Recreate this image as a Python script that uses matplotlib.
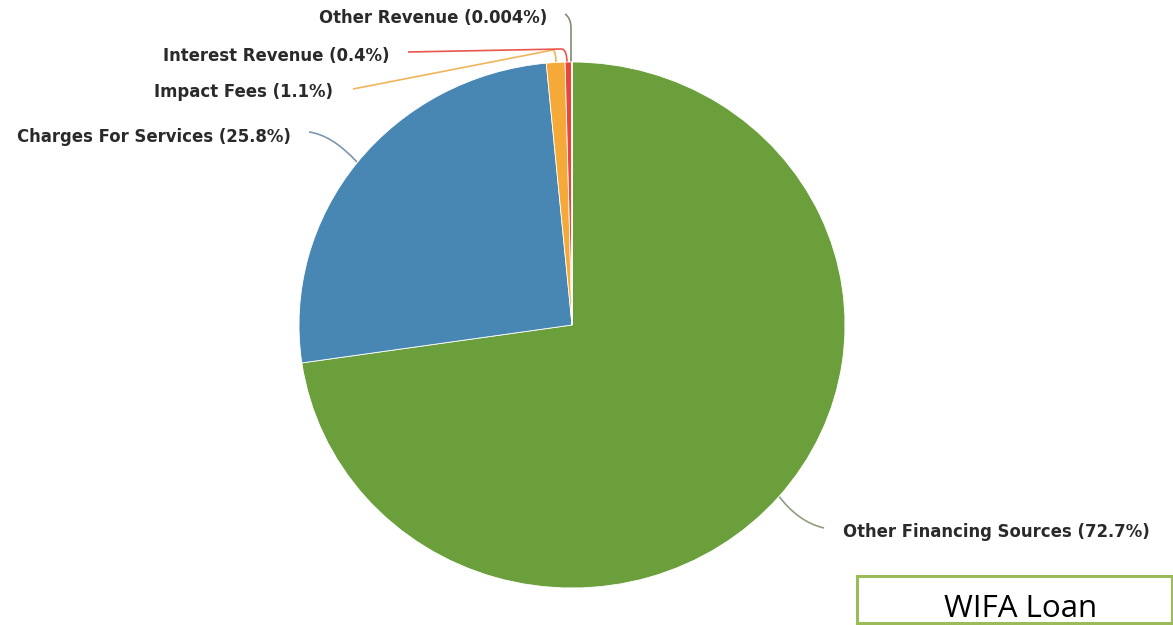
import matplotlib
matplotlib.use("Agg")
import matplotlib.pyplot as plt
from matplotlib.path import Path
from matplotlib.patches import PathPatch, Rectangle

# ---- data ----
categories = ["Other Financing Sources", "Charges For Services", "Impact Fees",
              "Interest Revenue", "Other Revenue"]
shares = [72.7, 25.8, 1.1, 0.4, 0.004]
slice_colors = ["#6a9f3b", "#4886b4", "#f4a938", "#e8463b", "#5f8f3a"]
connector_colors = ["#8f9e83", "#7f97ad", "#f2b45a", "#e8564c", "#7d8f73"]
box_text = "WIFA Loan"

W, H = 1173, 625
CX, CY, RX, RY = 572, 325, 273, 263


def P(xp, yp):
    return ((xp - CX) / RX, (CY - yp) / RY)


fig = plt.figure(figsize=(W / 100, H / 100), dpi=100)
ax = fig.add_axes([0, 0, 1, 1])
ax.pie(shares, colors=slice_colors, startangle=90, counterclock=False,
       radius=1, center=(0, 0),
       wedgeprops=dict(edgecolor="white", linewidth=0.6))
ax.set_aspect("auto")
x0, y0 = P(0, H)
x1, y1 = P(W, 0)
ax.set_xlim(x0, x1)
ax.set_ylim(y0, y1)
ax.axis("off")

label_font = dict(family="DejaVu Sans", weight="bold", size=11.9, color="#2a2a2a")

# label anchor positions (pixels) and alignment
label_pos = {
    "Other Financing Sources": (843, 532, "left"),
    "Charges For Services": (291, 137, "right"),
    "Impact Fees": (333, 92, "right"),
    "Interest Revenue": (390, 56, "right"),
    "Other Revenue": (547, 18, "right"),
}
for cat, v in zip(categories, shares):
    xp, yp, ha = label_pos[cat]
    ax.text(*P(xp, yp), f"{cat} ({v:g}%)", ha=ha, va="center", **label_font)

# connectors (pixel paths)
conn_paths = {
    "Other Financing Sources": ([(778, 495), (798, 522), (824, 528)],
                                [Path.MOVETO, Path.CURVE3, Path.CURVE3]),
    "Charges For Services": ([(309, 132), (332, 135), (357, 162)],
                             [Path.MOVETO, Path.CURVE3, Path.CURVE3]),
    "Impact Fees": ([(353, 89), (553, 50), (556, 51), (556, 63)],
                    [Path.MOVETO, Path.LINETO, Path.CURVE3, Path.CURVE3]),
    "Interest Revenue": ([(408, 52), (562, 49), (567, 50), (567, 63)],
                         [Path.MOVETO, Path.LINETO, Path.CURVE3, Path.CURVE3]),
    "Other Revenue": ([(565, 14), (571, 18), (571, 28), (571, 62)],
                      [Path.MOVETO, Path.CURVE3, Path.CURVE3, Path.LINETO]),
}
for cat, col in zip(categories, connector_colors):
    pts, codes = conn_paths[cat]
    verts = [P(x, y) for x, y in pts]
    ax.add_patch(PathPatch(Path(verts, codes), facecolor="none",
                           edgecolor=col, linewidth=1.2, zorder=0.5))

# WIFA Loan box
bx0, by0 = P(857, 623)
bx1, by1 = P(1172, 576)
ax.add_patch(Rectangle((bx0, by0), bx1 - bx0, by1 - by0, facecolor="white",
                       edgecolor="#9bbb59", linewidth=2.2, zorder=3))
ax.text(*P(1021, 624), box_text, ha="center", va="bottom",
        family="Open Sans", size=22.5, color="black", zorder=4)

fig.savefig("out.png", dpi=100, facecolor="white")
